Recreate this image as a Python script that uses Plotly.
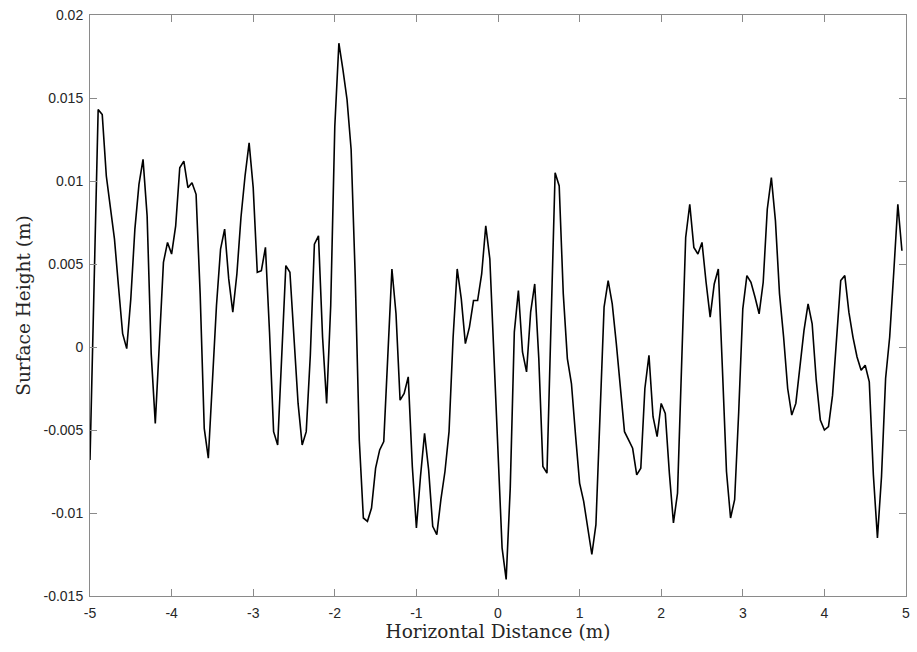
import plotly.graph_objects as go

# x positions: -5.00 to 4.95 in steps of 0.05 (200 samples)
x_start = -5.0
x_step = 0.05

surface_height = [
    -0.0068, 0.0045, 0.0143, 0.0140, 0.0103, 0.0084, 0.0065, 0.0036, 0.0008, -0.0001,
    0.0029, 0.0071, 0.0098, 0.0113, 0.0079, -0.0004, -0.0046, 0.0002, 0.0051, 0.0063,
    0.0056, 0.0073, 0.0108, 0.0112, 0.0096, 0.0099, 0.0092, 0.0032, -0.0049, -0.0067,
    -0.0023, 0.0025, 0.0059, 0.0071, 0.0041, 0.0021, 0.0044, 0.0078, 0.0103, 0.0123,
    0.0096, 0.0045, 0.0046, 0.0060, 0.0009, -0.0051, -0.0059, 0.0000, 0.0049, 0.0045,
    0.0006, -0.0034, -0.0059, -0.0051, -0.0005, 0.0062, 0.0067, 0.0006, -0.0034, 0.0025,
    0.0133, 0.0183, 0.0167, 0.0149, 0.0119, 0.0043, -0.0056, -0.0103, -0.0105, -0.0097,
    -0.0073, -0.0062, -0.0057, -0.0003, 0.0047, 0.0020, -0.0032, -0.0028, -0.0018, -0.0072,
    -0.0109, -0.0078, -0.0052, -0.0074, -0.0108, -0.0113, -0.0092, -0.0075, -0.0051, 0.0006,
    0.0047, 0.0029, 0.0002, 0.0012, 0.0028, 0.0028, 0.0044, 0.0073, 0.0053, -0.0005,
    -0.0062, -0.0121, -0.0140, -0.0085, 0.0009, 0.0034, -0.0003, -0.0015, 0.0021, 0.0038,
    -0.0007, -0.0072, -0.0076, 0.0013, 0.0105, 0.0097, 0.0032, -0.0007, -0.0022, -0.0053,
    -0.0082, -0.0093, -0.0109, -0.0125, -0.0107, -0.0039, 0.0024, 0.0040, 0.0026, 0.0002,
    -0.0026, -0.0051, -0.0056, -0.0061, -0.0077, -0.0073, -0.0025, -0.0005, -0.0042, -0.0054,
    -0.0034, -0.0040, -0.0076, -0.0106, -0.0088, -0.0010, 0.0066, 0.0086, 0.0060, 0.0056,
    0.0063, 0.0039, 0.0018, 0.0038, 0.0047, -0.0013, -0.0075, -0.0103, -0.0092, -0.0039,
    0.0023, 0.0043, 0.0039, 0.0030, 0.0020, 0.0039, 0.0083, 0.0102, 0.0076, 0.0032,
    0.0006, -0.0025, -0.0041, -0.0034, -0.0011, 0.0010, 0.0026, 0.0014, -0.0020, -0.0044,
    -0.0050, -0.0048, -0.0029, 0.0008, 0.0040, 0.0043, 0.0021, 0.0006, -0.0006, -0.0014,
    -0.0011, -0.0021, -0.0077, -0.0115, -0.0078, -0.0019, 0.0006, 0.0045, 0.0086, 0.0058,
]
x_vals = [round(x_start + i * x_step, 4) for i in range(len(surface_height))]

x_ticks = [-5, -4, -3, -2, -1, 0, 1, 2, 3, 4, 5]
x_tick_labels = ["-5", "-4", "-3", "-2", "-1", "0", "1", "2", "3", "4", "5"]
y_ticks = [-0.015, -0.01, -0.005, 0, 0.005, 0.01, 0.015, 0.02]
y_tick_labels = ["-0.015", "-0.01", "-0.005", "0", "0.005", "0.01", "0.015", "0.02"]

fig = go.Figure()
fig.add_trace(go.Scatter(
    x=x_vals, y=surface_height, mode="lines",
    line=dict(color="black", width=1.6), showlegend=False,
))

axis_common = dict(
    showgrid=False, zeroline=False, showline=True, linecolor="#8a8a8a", linewidth=1,
    mirror="ticks", ticks="inside", ticklen=7, tickcolor="#8a8a8a", tickwidth=1,
    tickfont=dict(family="Liberation Sans, Arial, sans-serif", size=14, color="#262626"),
)
title_font = dict(family="DejaVu Serif, Liberation Serif, serif", size=18.5, color="#262626")

fig.update_layout(
    width=917, height=652,
    margin=dict(l=90, r=7, t=11, b=56),
    paper_bgcolor="white", plot_bgcolor="white",
    xaxis=dict(
        range=[-5, 5], tickvals=x_ticks, ticktext=x_tick_labels, ticklabelstandoff=4,
        title=dict(text="Horizontal Distance (m)", standoff=3, font=title_font),
        **axis_common,
    ),
    yaxis=dict(
        range=[-0.015, 0.02], tickvals=y_ticks, ticktext=y_tick_labels, ticklabelstandoff=3,
        title=dict(text="Surface Height (m)", standoff=8, font=title_font),
        **axis_common,
    ),
)

fig.write_html("out.html")
